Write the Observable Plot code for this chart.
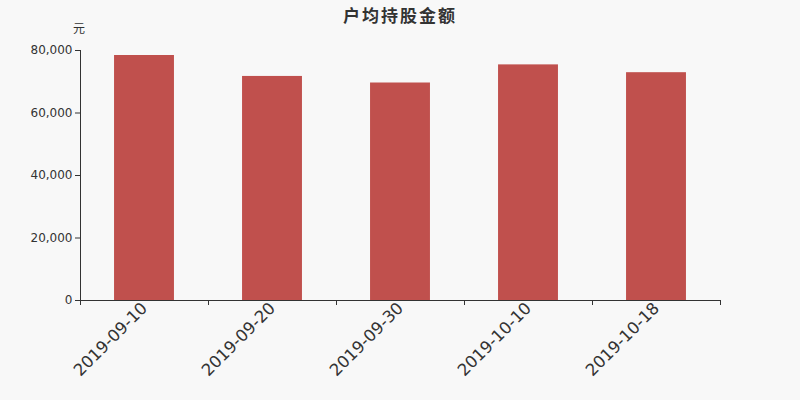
<!DOCTYPE html>
<html>
<head>
<meta charset="utf-8">
<script src="https://cdn.jsdelivr.net/npm/d3@7"></script>
<script src="https://cdn.jsdelivr.net/npm/@observablehq/plot@0.6"></script>
<style>
  html, body { margin: 0; padding: 0; background: #f8f8f8; }
  #wrap { position: relative; width: 800px; height: 400px; }
  #title { position: absolute; left: 0; top: 2px; width: 800px; text-align: center;
    font-family: "Noto Sans CJK SC", sans-serif; font-size: 17px; font-weight: bold; color: #333; letter-spacing: 2px; }
  #unit { position: absolute; left: 73px; top: 19px; font-family: "Noto Sans CJK SC", sans-serif; font-size: 12px; color: #333; }
</style>
</head>
<body>
<div id="wrap">
  <div id="title">户均持股金额</div>
  <div id="unit">元</div>
  <div id="chart"></div>
</div>
<script>
const dates = ["2019-09-10", "2019-09-20", "2019-09-30", "2019-10-10", "2019-10-18"];
const values = [78400, 71700, 69600, 75400, 72900];
const yTicks = [0, 20000, 40000, 60000, 80000];

const data = dates.map((d, i) => ({i, date: d, value: values[i]}));
const idx = dates.map((d, i) => i);
const bounds = dates.map((d, i) => i - 0.5).concat([dates.length - 0.5]);
const half = 0.234;

const chart = Plot.plot({
  width: 800,
  height: 400,
  marginLeft: 80,
  marginRight: 80,
  marginTop: 50,
  marginBottom: 100,
  style: {background: "transparent", fontFamily: "DejaVu Sans, sans-serif", color: "#333"},
  x: {type: "linear", domain: [-0.5, dates.length - 0.5]},
  y: {domain: [0, 80000]},
  marks: [
    Plot.rectY(data, {x1: d => d.i - half, x2: d => d.i + half, y: "value", fill: "#c0504d"}),
    Plot.ruleX([-0.5], {stroke: "#333", strokeWidth: 1}),
    Plot.ruleY([0], {stroke: "#333", strokeWidth: 1}),
    Plot.axisY({ticks: yTicks, tickFormat: d3.format(","), tickSize: 5, tickPadding: 3, fontSize: 12, label: null, stroke: "#333"}),
    Plot.axisX({ticks: bounds, tickFormat: () => "", tickSize: 5, label: null, stroke: "#333"}),
    Plot.axisX({ticks: idx, tickFormat: i => dates[i], tickSize: 0, tickPadding: 5, tickRotate: -45, fontSize: 16.5, label: null})
  ]
});
document.getElementById("chart").appendChild(chart);
</script>
</body>
</html>
